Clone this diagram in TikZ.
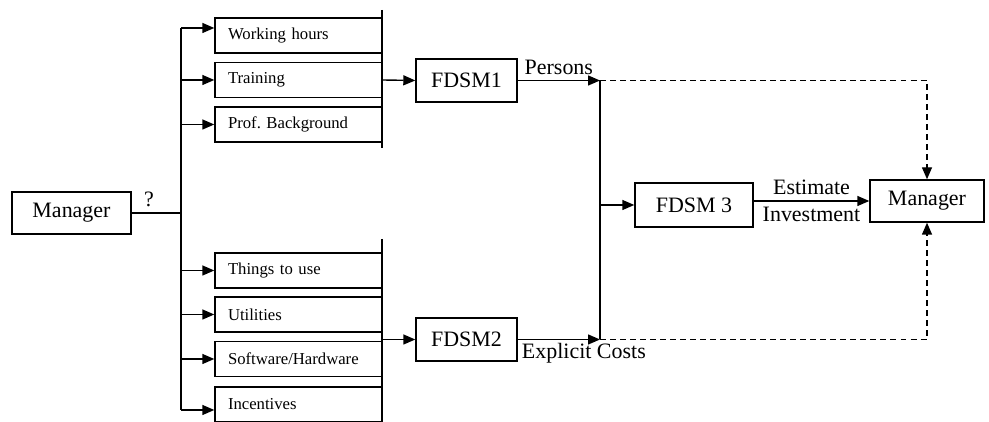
\documentclass[tikz,border=0pt]{standalone}
\usepackage{fontspec}
\setmainfont{Liberation Serif}
\usetikzlibrary{arrows.meta}

\tikzset{
  item/.style={draw, font=\fontsize{9.5}{11}\selectfont, minimum height=0.7cm,
    text width=2.82cm, inner xsep=0.26cm, align=left},
  block/.style={draw, font=\fontsize{12.5}{14}\selectfont, minimum height=0.86cm, minimum width=2.02cm},
  lbl/.style={font=\fontsize{12.5}{14}\selectfont, inner sep=3pt},
  arr/.style={-{Triangle[length=0.24cm,width=0.2cm]}},
  back/.style={arr, dash pattern=on 3.4pt off 2.3pt},
}

\begin{document}
\begin{tikzpicture}[line width=0.8pt]
        \useasboundingbox (0,0) rectangle (19.78,8.44);

        % Managers and models
        \node[block, minimum width=2.38cm, minimum height=0.84cm] (mgrL) at ( 1.43, 4.18) {Manager};
        \node[block] (f1) at ( 9.33, 6.83) {FDSM1};
        \node[block] (f2) at ( 9.33, 1.65) {FDSM2};
        \node[block, minimum width=2.36cm, minimum height=0.88cm] (f3) at (13.88, 4.34) {FDSM 3};
        \node[block, minimum width=2.28cm, minimum height=0.84cm] (mgrR) at (18.54, 4.42) {Manager};

        % Top items
        \node[item] (wh)  at ( 5.97, 7.73) {Working hours};
        \node[item] (tr)  at ( 5.97, 6.84) {Training};
        \node[item] (pb)  at ( 5.97, 5.95) {Prof.\ Background};

        % Bottom items
        \node[item] (tu)  at ( 5.97, 3.03) {Things to use};
        \node[item] (ut)  at ( 5.97, 2.15) {Utilities};
        \node[item] (sw)  at ( 5.97, 1.26) {Software/Hardware};
        \node[item] (inc) at ( 5.97, 0.35) {Incentives};

        % Trunk
        \coordinate (trTop) at ( 3.62, 7.88); % Top    end
        \coordinate (trBot) at ( 3.62, 0.24); % Bottom end
        \draw (mgrL.east) -- node[lbl, pos=0.35, above] (q) {?} (mgrL.east -| trTop);
        \draw (trTop) -- (trBot);
        \draw[arr] (trTop) -- (trTop -| wh.west);
        \draw[arr] (tr.west -| trTop) -- (tr.west);
        \draw[arr] (pb.west -| trTop) -- (pb.west);
        \draw[arr] (tu.west -| trTop) -- (tu.west);
        \draw[arr] (ut.west -| trTop) -- (ut.west);
        \draw[arr] (sw.west -| trTop) -- (sw.west);
        \draw[arr] (trBot) -- (trBot -| inc.west);

        % Brackets
        \coordinate (bA) at ( 7.64, 8.24);
        \coordinate (bB) at ( 7.64, 5.48);
        \coordinate (bC) at ( 7.64, 3.66);
        \coordinate (bD) at ( 7.64, 0.00);
        \draw (bA) -- (bB); % Top    bracket
        \draw (bC) -- (bD); % Bottom bracket

        % Into the models
        \draw[arr] (tr.east) -- (f1.west);
        \draw[arr] (f2.west -| bC) -- (f2.west);

        % Junction
        \coordinate (jT) at (12.00, 6.83);
        \coordinate (jB) at (12.00, 1.65);
        \draw[arr] (f1.east) -- node[lbl, above] (persons) {Persons} (jT);
        \draw[arr] (f2.east) -- (jB);
        \node[lbl, anchor=north west, inner sep=2pt] (costs) at (f2.east) {Explicit Costs};
        \draw (jT) -- (jB);
        \draw[arr] (jT |- f3.west) -- (f3.west);
        \draw[arr] (mgrR.west -| f3.east) -- node[lbl, above] (est) {Estimate}
                                              node[lbl, below] (inv) {Investment} (mgrR.west);

        % Dashed returns
        \draw[back] (jT) -| (mgrR.north);
        \draw[back] (jB) -| (mgrR.south);
\end{tikzpicture}
\end{document}
